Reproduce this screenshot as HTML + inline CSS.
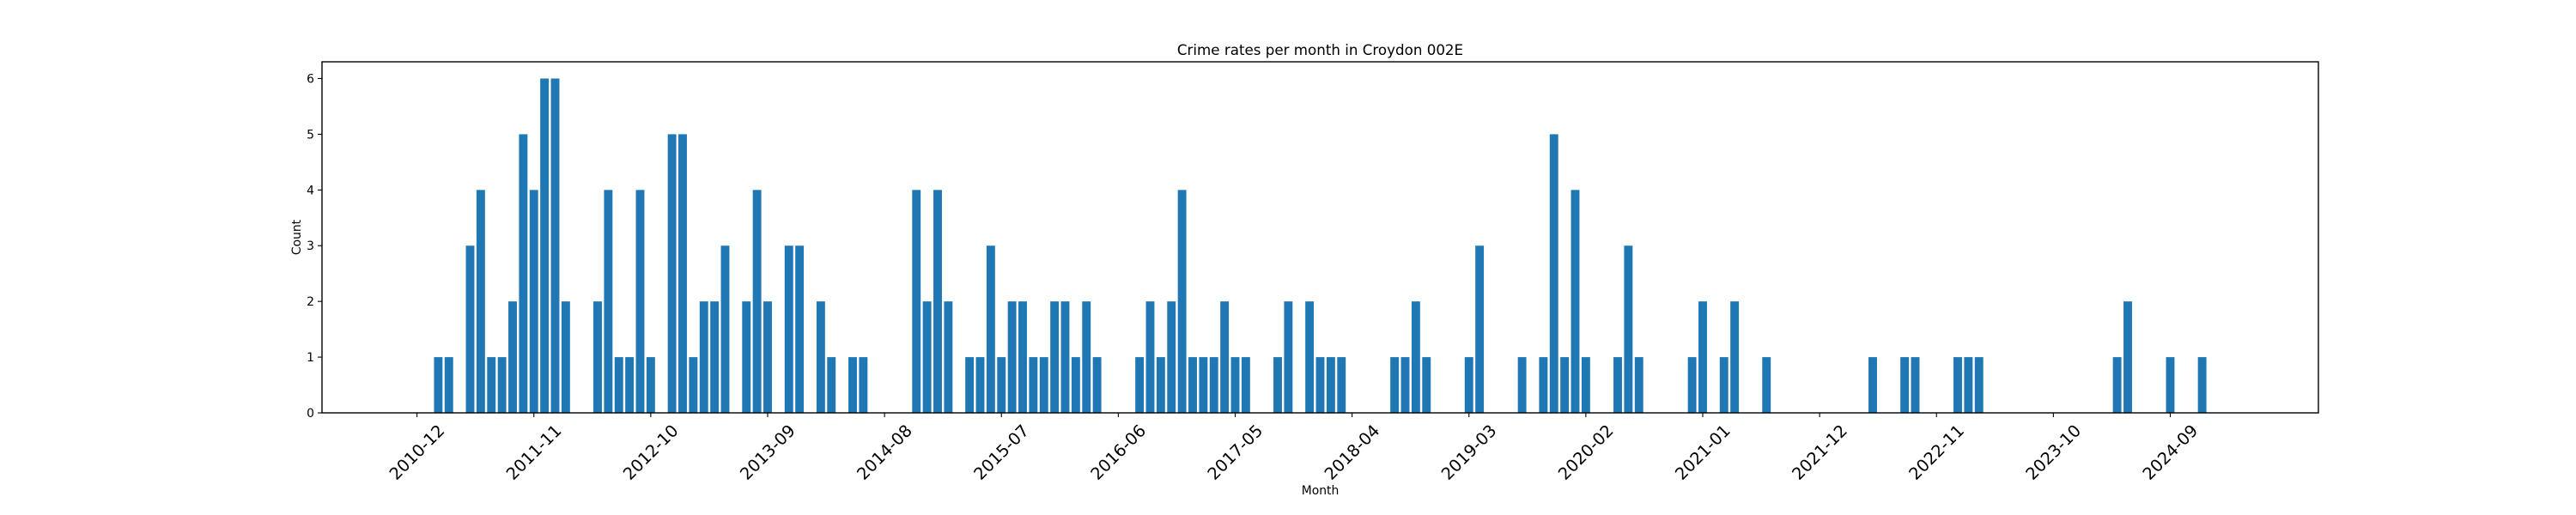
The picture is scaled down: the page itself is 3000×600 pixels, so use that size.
<!DOCTYPE html>
<html><head><meta charset="utf-8"><style>
html,body{margin:0;padding:0;background:#fff;}
svg{display:block;font-family:"DejaVu Sans","Liberation Sans",sans-serif;}
</style></head>
<body>
<svg id="chart" width="3000" height="600" viewBox="0 0 3000 600" xmlns="http://www.w3.org/2000/svg">
<rect x="0" y="0" width="3000" height="600" fill="#fff"/>
<text x="1537.5" y="64" font-size="16.7" text-anchor="middle" fill="#000">Crime rates per month in Croydon 002E</text>
<g id="bars"></g>
<g id="yticks"></g>
<g id="xticks"></g>
<rect x="375" y="72" width="2325" height="409" fill="none" stroke="#000" stroke-width="1.4"/>
<text x="1537.5" y="576" font-size="13.9" text-anchor="middle" fill="#000">Month</text>
<text x="0" y="0" font-size="13.9" text-anchor="middle" fill="#000" transform="translate(350,276.5) rotate(-90)">Count</text>
</svg>
<script>
// months start at 2010-12, consecutive
const startYear = 2010, startMonth = 12, monthCount = 171;
const nonZeroIdx = [2,3,5,6,7,8,9,10,11,12,13,14,17,18,19,20,21,22,24,25,26,27,28,29,31,32,33,35,36,38,39,41,42,47,48,49,50,52,53,54,55,56,57,58,59,60,61,62,63,64,68,69,70,71,72,73,74,75,76,77,78,81,82,84,85,86,87,92,93,94,95,99,100,104,106,107,108,109,110,113,114,115,120,121,123,124,127,137,140,141,145,146,147,160,161,165,168];
const nonZeroVal = [1,1,3,4,1,1,2,5,4,6,6,2, 2,4,1,1,4,1, 5,5,1,2,2,3, 2,4,2, 3,3, 2,1, 1,1, 4,2,4,2, 1,1,3, 1,2,2,1,1,2,2,1,2,1, 1,2,1,2,4,1,1,1,2,1,1, 1,2, 2,1,1,1, 1,1,2,1, 1,3, 1, 1,5,1,4,1, 1,3,1, 1,2, 1,2, 1, 1, 1,1, 1,1,1, 1,2, 1, 1];
const yTicks = [0,1,2,3,4,5,6];
const tickStep = 11;

const months = [];
for (let i = 0; i < monthCount; i++) {
  const m0 = startMonth - 1 + i;
  const y = startYear + Math.floor(m0 / 12);
  const m = (m0 % 12) + 1;
  months.push(y + '-' + String(m).padStart(2, '0'));
}
const counts = new Array(monthCount).fill(0);
nonZeroIdx.forEach((k, j) => { counts[k] = nonZeroVal[j]; });

const L = 375, R = 2700, T = 72, B = 481;
const xmin = -8.94, xmax = 178.94, ymax = 6.3;
const xs = i => L + (i - xmin) / (xmax - xmin) * (R - L);
const ys = v => B - v / ymax * (B - T);
const bw = 0.8 * (R - L) / (xmax - xmin);
const NS = 'http://www.w3.org/2000/svg';

const gb = document.getElementById('bars');
counts.forEach((v, i) => {
  if (v <= 0) return;
  const r = document.createElementNS(NS, 'rect');
  r.setAttribute('x', xs(i) - bw / 2);
  r.setAttribute('y', ys(v));
  r.setAttribute('width', bw);
  r.setAttribute('height', ys(0) - ys(v));
  r.setAttribute('fill', '#1f77b4');
  
  
  gb.appendChild(r);
});

const gy = document.getElementById('yticks');
yTicks.forEach(t => {
  const y = ys(t);
  const l = document.createElementNS(NS, 'line');
  l.setAttribute('x1', L - 5); l.setAttribute('x2', L);
  l.setAttribute('y1', y); l.setAttribute('y2', y);
  l.setAttribute('stroke', '#000'); l.setAttribute('stroke-width', '1.1');
  
  
  gy.appendChild(l);
  const tx = document.createElementNS(NS, 'text');
  tx.setAttribute('x', L - 9); tx.setAttribute('y', y + 5);
  tx.setAttribute('font-size', '13.9'); tx.setAttribute('text-anchor', 'end');
  tx.textContent = t;
  
  
  gy.appendChild(tx);
});

const gx = document.getElementById('xticks');
for (let i = 0; i < monthCount; i += tickStep) {
  const x = xs(i);
  const l = document.createElementNS(NS, 'line');
  l.setAttribute('x1', x); l.setAttribute('x2', x);
  l.setAttribute('y1', B); l.setAttribute('y2', B + 5);
  l.setAttribute('stroke', '#000'); l.setAttribute('stroke-width', '1.1');
  
  
  gx.appendChild(l);
  const tx = document.createElementNS(NS, 'text');
  tx.setAttribute('x', 0); tx.setAttribute('y', 0);
  tx.setAttribute('font-size', '19.4'); tx.setAttribute('text-anchor', 'middle');
  tx.setAttribute('dominant-baseline', 'central');
  tx.setAttribute('transform', 'translate(' + x + ',527) rotate(-45)');
  tx.textContent = months[i];
  
  
  gx.appendChild(tx);
}
</script>
</body></html>
